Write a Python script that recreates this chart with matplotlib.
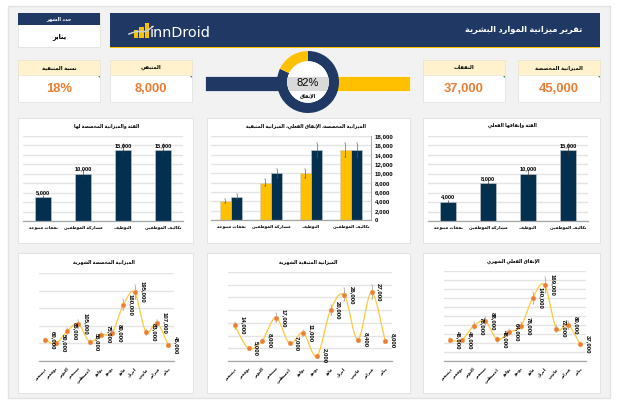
import numpy as np
import matplotlib
matplotlib.use("Agg")
import matplotlib.pyplot as plt
from matplotlib.patches import Rectangle, Polygon, Circle

# ---------- data ----------
categories = ["تكاليف الموظفين", "التوظيف", "مشاركة الموظفين", "نفقات متنوعة"]
allocated = [15000, 15000, 10000, 5000]
actual = [15000, 10000, 8000, 4000]
months = ["يناير", "فبراير", "مارس", "أبريل", "مايو", "يونيو", "يوليو",
          "أغسطس", "سبتمبر", "أكتوبر", "نوفمبر", "ديسمبر"]
monthly_allocated = [45000, 107000, 83000, 195000, 160000, 80000, 75000, 55000,
                     105000, 85000, 50000, 60000]
monthly_remaining = [8000, 27000, 8400, 26000, 20000, 2000, 11000, 7000, 17000,
                     8000, 5000, 14000]
monthly_actual = [37000, 80000, 72000, 169000, 140000, 78000, 64000, 48000,
                  88000, 78000, 46000, 46000]
kpi_labels = ["الميزانية المخصصة", "النفقات", "المتبقي", "نسبة المتبقية"]
kpi_values = ["45,000", "37,000", "8,000", "18%"]
donut_values = [82, 18]

NAVY = "#1F3864"
DARK = "#03304F"
GOLD = "#FFC000"
ORANGE = "#ED7D31"
GRID = "#E4E4E4"
AXIS = "#A6A6A6"
FONT = ["Liberation Sans", "DejaVu Sans"]
plt.rcParams["font.family"] = FONT


# ---------- minimal Arabic shaping (matplotlib has none) ----------
_base = [("ء", 0xFE80, 1), ("آ", 0xFE81, 2), ("أ", 0xFE83, 2), ("ؤ", 0xFE85, 2),
         ("إ", 0xFE87, 2), ("ئ", 0xFE89, 4), ("ا", 0xFE8D, 2), ("ب", 0xFE8F, 4),
         ("ة", 0xFE93, 2), ("ت", 0xFE95, 4), ("ث", 0xFE99, 4), ("ج", 0xFE9D, 4),
         ("ح", 0xFEA1, 4), ("خ", 0xFEA5, 4), ("د", 0xFEA9, 2), ("ذ", 0xFEAB, 2),
         ("ر", 0xFEAD, 2), ("ز", 0xFEAF, 2), ("س", 0xFEB1, 4), ("ش", 0xFEB5, 4),
         ("ص", 0xFEB9, 4), ("ض", 0xFEBD, 4), ("ط", 0xFEC1, 4), ("ظ", 0xFEC5, 4),
         ("ع", 0xFEC9, 4), ("غ", 0xFECD, 4), ("ف", 0xFED1, 4), ("ق", 0xFED5, 4),
         ("ك", 0xFED9, 4), ("ل", 0xFEDD, 4), ("م", 0xFEE1, 4), ("ن", 0xFEE5, 4),
         ("ه", 0xFEE9, 4), ("و", 0xFEED, 2), ("ى", 0xFEEF, 2), ("ي", 0xFEF1, 4)]
_forms = {c: (b, n) for c, b, n in _base}
_lam_alef = {"آ": 0xFEF5, "أ": 0xFEF7, "إ": 0xFEF9, "ا": 0xFEFB}


def ar(s):
    items = []
    i = 0
    while i < len(s):
        if s[i] == "ل" and i + 1 < len(s) and s[i + 1] in _lam_alef:
            items.append(("LA", _lam_alef[s[i + 1]]))
            i += 2
        else:
            items.append(("C", s[i]))
            i += 1

    def joins_next(it):
        if it[0] == "LA":
            return False
        return it[1] in _forms and _forms[it[1]][1] == 4

    def is_letter(it):
        return it[0] == "LA" or it[1] in _forms

    out = []
    for k, it in enumerate(items):
        prev_join = k > 0 and joins_next(items[k - 1])
        if it[0] == "LA":
            out.append(chr(it[1] + (1 if prev_join else 0)))
            continue
        if it[1] not in _forms:
            out.append(it[1])
            continue
        b, n = _forms[it[1]]
        next_join = k + 1 < len(items) and is_letter(items[k + 1]) and n == 4
        if n == 1:
            off = 0
        elif n == 2:
            off = 1 if prev_join else 0
        else:
            off = {(False, False): 0, (True, False): 1, (False, True): 2, (True, True): 3}[(prev_join, next_join)]
        out.append(chr(b + off))
    return "".join(reversed(out))


def catmull(x, y, n=24):
    """Smooth line through the data points, as a spreadsheet smoothed line."""
    x = np.asarray(x, float)
    y = np.asarray(y, float)
    px = np.r_[x[0], x, x[-1]]
    py = np.r_[y[0], y, y[-1]]
    xs, ys = [], []
    for i in range(1, len(px) - 2):
        t = np.linspace(0, 1, n)
        for p, o in ((px, xs), (py, ys)):
            a, b, c, d = p[i - 1], p[i], p[i + 1], p[i + 2]
            o.append(b + 0.5 * t * (c - a + t * (2 * a - 5 * b + 4 * c - d + t * (3 * (b - c) + d - a))))
    return np.concatenate(xs), np.concatenate(ys)


W, H = 620, 408
fig = plt.figure(figsize=(W / 100, H / 100), dpi=100, facecolor="white")
bg = fig.add_axes([0, 0, 1, 1], zorder=0)
bg.set_xlim(0, W)
bg.set_ylim(H, 0)
bg.axis("off")


def rect(x0, y0, x1, y1, fc, ec="none", lw=0.0, z=1):
    bg.add_patch(Rectangle((x0, y0), x1 - x0, y1 - y0, fc=fc, ec=ec, lw=lw, zorder=z))


def axes_px(x0, y0, x1, y1, z=2):
    a = fig.add_axes([x0 / W, 1 - y1 / H, (x1 - x0) / W, (y1 - y0) / H], zorder=z)
    a.patch.set_alpha(0)
    return a


def label(x, y, s, size, color="black", weight="normal", ha="center"):
    bg.text(x, y, s, fontsize=size, color=color, fontweight=weight, ha=ha, va="center", zorder=5)


# page panel
rect(8, 6, 610, 398, "#F2F2F2", "#E2E2E2", 1)

# month selector
rect(18, 13, 100, 47, "white", "#E2E2E2", 0.6, 2)
rect(18, 13, 100, 25, NAVY, z=3)
label(59, 19, ar("حدد الشهر"), 3.6, "white", "bold")
label(59, 37, ar("يناير"), 4.8, "black", "bold")

# banner
rect(110, 13, 600, 47, NAVY, z=2)
rect(110, 47, 600, 48, GOLD, z=2)
label(582, 30, ar("تقرير ميزانية الموارد البشرية"), 6.0, "white", "bold", ha="right")
# logo
for lx, ly in zip([133.5, 139, 144.5], [30, 27, 23]):
    rect(lx, ly, lx + 4.5, 38, GOLD, z=3)
bg.plot([129, 136, 146, 153], [34, 31.5, 31.5, 26.5], color="#C8CCD6", lw=1.1, zorder=4)
bg.text(150, 33, "innDroid", fontsize=10.4, color="white", fontfamily="DejaVu Sans",
        ha="left", va="center", zorder=5)

# KPI cards
kpi_x = [(518, 600), (423, 505), (110, 192), (18, 100)]
for (x0, x1), t, v in zip(kpi_x, kpi_labels, kpi_values):
    rect(x0, 60, x1, 102, "white", "#E2E2E2", 0.6, 2)
    rect(x0, 60, x1, 75, "#FFF2CC", "#E8E2CC", 0.4, 3)
    bg.add_patch(Polygon([[x1 - 2, 76], [x1, 76], [x1, 78]], fc="#2E9E3F", ec="none", zorder=4))
    label((x0 + x1) / 2, 67.5, ar(t), 3.8, "black", "bold")
    label((x0 + x1) / 2, 89, v, 9.4, ORANGE, "bold")

# KPI bars + donut
rect(205, 76, 280, 91, NAVY, "white", 0.5, 2)
rect(336, 76, 410, 91, GOLD, "white", 0.5, 2)
d = axes_px(277, 51, 339, 113, z=3)
d.pie(donut_values, colors=[NAVY, GOLD], startangle=90, counterclock=False, radius=1,
      wedgeprops=dict(width=0.33, linewidth=0))
d.set_xlim(-1, 1)
d.set_ylim(-1, 1)
c = Circle((0, 0), 0.67, fc="white", ec="none", zorder=3)
d.add_patch(c)
band = Rectangle((-0.67, -0.3), 1.34, 0.46, fc="#D9D9D9", ec="none", zorder=4)
d.add_patch(band)
band.set_clip_path(c)
d.text(0, -0.02, f"{donut_values[0]}%", fontsize=8, ha="center", va="center", zorder=5)
d.text(0, -0.47, ar("الإنفاق"), fontsize=3.4, fontweight="bold", ha="center", va="center", zorder=5)

# chart cards
for x0, x1 in [(18, 193), (207, 410), (423, 600)]:
    rect(x0, 118, x1, 243, "white", "#E2E2E2", 0.7, 1)
    rect(x0, 253, x1, 393, "white", "#E2E2E2", 0.7, 1)


def style(a, ymax, step):
    a.set_ylim(0, ymax)
    a.set_yticks(np.arange(0, ymax + 1, step))
    a.grid(axis="y", color=GRID, lw=1.0)
    a.set_axisbelow(True)
    for s in a.spines.values():
        s.set_visible(False)
    a.spines["bottom"].set_visible(True)
    a.spines["bottom"].set_color(AXIS)
    a.spines["bottom"].set_linewidth(0.9)
    a.tick_params(length=0)
    a.tick_params(axis="y", labelleft=False)


def cat_axis(a):
    a.set_xlim(3.5, -0.5)
    a.set_xticks(range(len(categories)))
    a.set_xticklabels([ar(s) for s in categories], fontsize=3.1, fontweight="bold")
    a.tick_params(axis="x", pad=3)


def bar_chart(box, values, title, cx, ty):
    a = axes_px(*box)
    style(a, 18000, 2000)
    x = np.arange(len(values))
    v = np.array(values)
    a.bar(x, v, width=0.4, color=DARK, edgecolor="#C9CED3", lw=0.4, zorder=2)
    a.errorbar(x, v, yerr=0.1 * v, fmt="none", ecolor="#333333", elinewidth=0.45, capsize=0, zorder=3)
    for xi, vi in zip(x, v):
        a.annotate(f"{vi:,}", (xi, vi), xytext=(0, 3.6), textcoords="offset points", ha="center",
                   va="center", fontsize=4.1, fontweight="bold", zorder=4)
    cat_axis(a)
    label(cx, ty, ar(title), 3.3, "black", "bold")


bar_chart((23, 136, 183, 221), allocated, "الفئة والميزانية المخصصة لها", 107, 126)
bar_chart((428, 136, 588, 221), actual, "الفئة وإنفاقها الفعلي", 512, 125)

# combined chart
m = axes_px(211, 136, 371, 220)
style(m, 18000, 2000)
xm = np.arange(4)
w = 0.283
for off, vals, col in [(w / 2, actual, GOLD), (-w / 2, allocated, DARK)]:
    v = np.array(vals)
    m.bar(xm + off, v, width=w, color=col, edgecolor="#C9CED3", lw=0.4, zorder=2)
    m.errorbar(xm + off, v, yerr=0.1 * v, fmt="none", ecolor="#555555", elinewidth=0.45, capsize=0.6,
               capthick=0.3, zorder=3)
cat_axis(m)
m.yaxis.tick_right()
m.tick_params(axis="y", labelright=True, labelleft=False, pad=3, labelsize=4.4)
m.set_yticklabels([f"{t:,}" for t in range(0, 18001, 2000)], fontweight="bold")
m.spines["right"].set_visible(True)
m.spines["right"].set_color(AXIS)
m.spines["right"].set_linewidth(0.7)
label(306, 126, ar("الميزانية المخصصة، الإنفاق الفعلي، الميزانية المتبقية"), 3.3, "black", "bold")


def line_chart(box, values, ymax, step, title, cx, ty):
    a = axes_px(*box)
    style(a, ymax, step)
    x = np.arange(len(values))
    v = np.array(values, float)
    sx, sy = catmull(x, v)
    a.plot(sx, sy, color="#FFC93C", lw=0.9, zorder=2, solid_capstyle="round")
    a.errorbar(x, v, yerr=0.1 * v, fmt="none", ecolor="#9A9A9A", elinewidth=0.5, capsize=0.6,
               capthick=0.3, zorder=3)
    a.plot(x, v, ls="none", marker="o", ms=3.4, mfc=ORANGE, mec="#F5A35F", mew=0.3, zorder=4)
    for xi, vi in zip(x, values):
        a.annotate(f"{vi:,}", (xi, vi), xytext=(5.8, 0), textcoords="offset points", rotation=270,
                   ha="center", va="center", fontsize=4.3, fontweight="bold", zorder=5, annotation_clip=False)
    a.set_xlim(11.5, -0.5)
    a.set_xticks(x)
    a.set_xticklabels([ar(s) for s in months], fontsize=3.1, fontweight="bold", rotation=45,
                      ha="right", rotation_mode="anchor")
    a.tick_params(axis="x", pad=4.5)
    label(cx, ty, ar(title), 3.3, "black", "bold")


line_chart((39, 273, 174, 361), monthly_allocated, 250000, 50000, "الميزانية المخصصة الشهرية", 104, 262)
line_chart((228, 272, 392, 361), monthly_remaining, 35000, 5000, "الميزانية المتبقية الشهرية", 308, 262)
line_chart((444, 271, 586, 361), monthly_actual, 200000, 20000, "الإنفاق الفعلي الشهري", 513, 261)

fig.savefig("out.png", dpi=100)
